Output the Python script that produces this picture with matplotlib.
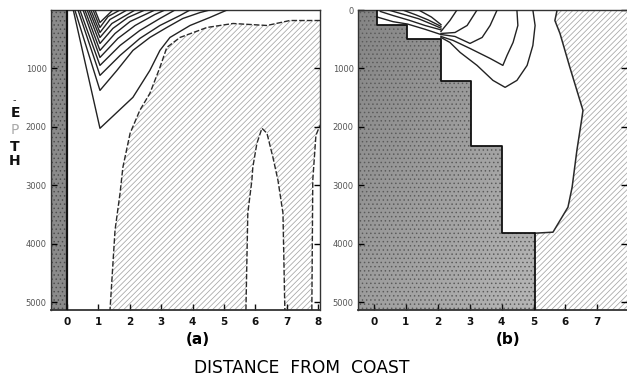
import matplotlib.pyplot as plt
import numpy as np
from matplotlib.patches import Polygon

plt.rcParams['hatch.linewidth'] = 0.55

W, H = 627, 378
DMAX = 5135

# ---- panel (a) ----
a_xlim = (-0.51, 8.06)
a_coast = 0.0

# nested V-shaped isolines near the coast
a_lines_x = [
    [0.20, 1.05, 2.10, 2.64, 2.96, 3.28, 3.92, 4.55, 5.10],
    [0.25, 1.05, 1.59, 2.10, 2.64, 3.18, 3.69, 4.24, 4.55],
    [0.35, 1.05, 1.69, 2.32, 2.96, 3.60, 3.92],
    [0.41, 1.05, 1.69, 2.32, 2.96, 3.44],
    [0.51, 1.05, 1.62, 2.17, 2.80, 3.12],
    [0.57, 1.05, 1.53, 2.01, 2.80],
    [0.64, 1.05, 1.46, 1.94, 2.48],
    [0.70, 1.05, 1.43, 2.17],
    [0.76, 1.05, 1.37, 1.91],
    [0.83, 1.05, 1.31, 1.69],
    [0.89, 1.05, 1.46],
]
a_lines_d = [
    [0, 2025, 1495, 1034, 692, 470, 265, 128, 0],
    [0, 1376, 1034, 692, 470, 299, 145, 43, 0],
    [0, 1119, 778, 487, 265, 94, 0],
    [0, 948, 607, 350, 145, 0],
    [0, 812, 487, 265, 77, 0],
    [0, 692, 402, 197, 0],
    [0, 573, 316, 128, 0],
    [0, 470, 231, 0],
    [0, 385, 162, 0],
    [0, 299, 111, 0],
    [0, 214, 0],
]

# boundary of the hatched zone
a_edge_x = [8.06, 7.10, 6.37, 5.29, 4.46, 3.60, 3.18, 2.96, 2.64, 2.32, 2.01, 1.78, 1.69, 1.53, 1.43, 1.37]
a_edge_d = [180, 180, 265, 231, 299, 470, 641, 983, 1427, 1717, 2110, 2692, 3136, 3768, 4623, 5135]

# clear tongues inside the hatched zone
a_arch1_x = [5.70, 5.76, 5.89, 5.92, 6.05, 6.21, 6.37, 6.56, 6.72, 6.88, 6.94]
a_arch1_d = [5135, 3477, 2913, 2690, 2282, 2025, 2110, 2521, 2913, 3478, 5135]
a_arch2_x = [7.80, 7.83, 7.93, 8.06]
a_arch2_d = [5135, 2913, 2145, 1974]

# ---- panel (b) ----
b_xlim = (-0.5, 7.93)

# stepped bottom
b_step_x = [0.1, 0.1, 1.05, 1.05, 2.1, 2.1, 3.05, 3.05, 4.0, 4.0, 5.05, 5.05]
b_step_d = [0, 265, 265, 500, 500, 1220, 1220, 2330, 2330, 3820, 3820, 5135]

b_edge_x = [5.74, 5.67, 5.83, 6.14, 6.55, 6.52, 6.36, 6.21, 6.08, 5.61, 5.05]
b_edge_d = [0, 180, 402, 983, 1717, 1837, 2401, 3034, 3375, 3803, 3820]

b_lines_x = [
    [4.98, 5.05, 4.98, 4.80, 4.48, 4.11, 3.73, 3.23, 2.70, 2.38, 2.10],
    [4.48, 4.51, 4.36, 4.17, 4.04, 3.64, 3.01, 2.48, 2.10],
    [3.86, 3.64, 3.39, 3.01, 2.54, 2.10],
    [3.23, 2.92, 2.54, 2.10],
    [2.60, 2.38, 2.10],
    [1.40, 1.80, 2.10],
    [0.90, 1.30, 1.70, 2.10],
    [0.45, 0.90, 1.40, 1.80, 2.10],
    [0.20, 0.60, 1.10, 1.60, 2.10],
    [0.10, 0.60, 1.05, 1.60, 2.10],
]
b_lines_d = [
    [0, 265, 607, 948, 1205, 1324, 1205, 948, 726, 555, 470],
    [0, 265, 555, 778, 948, 829, 658, 521, 453],
    [0, 265, 470, 572, 453, 419],
    [0, 265, 385, 402],
    [0, 180, 367],
    [0, 120, 250],
    [0, 80, 170, 280],
    [0, 70, 150, 240, 310],
    [25, 95, 175, 265, 340],
    [120, 200, 240, 330, 420],
]

depth_ticks = [0, 1000, 2000, 3000, 4000, 5000]

fig = plt.figure(figsize=(6.27, 3.78), dpi=100)
ax_a = fig.add_axes([51 / W, 1 - 310 / H, 269 / W, 300 / H])
ax_b = fig.add_axes([358 / W, 1 - 310 / H, 269 / W, 300 / H])

line_kw = dict(color='#222222', lw=1.0)
hatch_kw = dict(facecolor='none', edgecolor='#a4a4a4', hatch='//////', lw=0)

# (a) coast strip
strip = [(a_xlim[0], 0), (a_coast, 0), (a_coast, DMAX), (a_xlim[0], DMAX)]
ax_a.add_patch(Polygon(strip, facecolor='#8a8a8a', lw=0, zorder=1))
ax_a.add_patch(Polygon(strip, facecolor='none', edgecolor='#4d4d4d', hatch='....', lw=0, zorder=1.1))
ax_a.axvline(a_coast, color='#111', lw=1.6, zorder=4)

hz = list(zip(a_edge_x, a_edge_d)) + [(a_xlim[1], DMAX)]
ax_a.add_patch(Polygon(hz, zorder=1, **hatch_kw))
ax_a.add_patch(Polygon(list(zip(a_arch1_x, a_arch1_d)), facecolor='white', lw=0, zorder=1.5))
ax_a.add_patch(Polygon(list(zip(a_arch2_x, a_arch2_d)) + [(a_xlim[1], DMAX)],
                       facecolor='white', lw=0, zorder=1.5))

dash = (0, (4, 1.5))
ax_a.plot(a_edge_x, a_edge_d, color='#2a2a2a', lw=1.0, ls=dash, zorder=3)
ax_a.plot(a_arch1_x, a_arch1_d, color='#2a2a2a', lw=1.0, ls=dash, zorder=3)
ax_a.plot(a_arch2_x, a_arch2_d, color='#2a2a2a', lw=1.0, ls=dash, zorder=3)
for xs, ds in zip(a_lines_x, a_lines_d):
    ax_a.plot(xs, ds, zorder=3, **line_kw)

# (b) stepped bottom with grey shading
step_poly = [(b_xlim[0], 0)] + list(zip(b_step_x, b_step_d)) + [(b_xlim[0], DMAX)]
clip = Polygon(step_poly, facecolor='none', lw=0)
ax_b.add_patch(clip)
gx, gy = np.meshgrid(np.linspace(0, 1, 60), np.linspace(0, 1, 60))
shade = 0.52 + 0.24 * (0.6 * gx + 0.4 * gy)
img = ax_b.imshow(shade, cmap='gray', vmin=0, vmax=1, aspect='auto',
                  extent=(b_xlim[0], b_xlim[1], DMAX, 0), zorder=1)
img.set_clip_path(clip)
ax_b.add_patch(Polygon(step_poly, facecolor='none', edgecolor='#5a5a5a', hatch='....', lw=0, zorder=1.1))
ax_b.plot(b_step_x, b_step_d, color='#111', lw=1.3, zorder=4)

hz_b = list(zip(b_edge_x, b_edge_d)) + [(5.05, DMAX), (b_xlim[1], DMAX), (b_xlim[1], 0)]
ax_b.add_patch(Polygon(hz_b, zorder=1, **hatch_kw))
ax_b.plot(b_edge_x, b_edge_d, color='#2a2a2a', lw=1.1, zorder=3)
for xs, ds in zip(b_lines_x, b_lines_d):
    ax_b.plot(xs, ds, zorder=3, **line_kw)

# axes styling
for ax, xl, nx in ((ax_a, a_xlim, 9), (ax_b, b_xlim, 8)):
    ax.set_xlim(*xl)
    ax.set_ylim(DMAX, 0)
    ax.set_xticks(range(nx))
    ax.set_xticklabels([str(i) for i in range(nx)], fontsize=7.5, fontweight='bold')
    ax.tick_params(axis='x', direction='in', length=4, width=1, pad=5, colors='#111')
    ax.tick_params(axis='y', direction='in', length=4, width=1, right=True, pad=3,
                   labelsize=6, labelcolor='#555')
    for s in ax.spines.values():
        s.set_color('#333')
        s.set_linewidth(1.0)
    ax.spines['bottom'].set_linewidth(1.3)

ax_a.set_yticks(depth_ticks[1:])
ax_a.set_yticklabels([str(v) for v in depth_ticks[1:]])
ax_b.set_yticks(depth_ticks)
ax_b.set_yticklabels([str(v) for v in depth_ticks])
ax_b.spines['right'].set_visible(False)

# labels
fig.text(198 / W, 1 - 340 / H, '(a)', ha='center', va='center', fontsize=11, fontweight='bold')
fig.text(508 / W, 1 - 340 / H, '(b)', ha='center', va='center', fontsize=11, fontweight='bold')
fig.text(302 / W, 1 - 368 / H, 'DISTANCE  FROM  COAST', ha='center', va='center', fontsize=12.3)

fig.text(14 / W, 1 - 100 / H, '-', ha='center', va='center', fontsize=7, color='#333')
for ch, yy, col in (('E', 113, '#111'), ('P', 130, '#aaa'), ('T', 147, '#111'), ('H', 161, '#111')):
    fig.text(15 / W, 1 - yy / H, ch, ha='center', va='center', fontsize=10,
             fontweight='bold' if col == '#111' else 'normal', color=col)

fig.savefig('out.png', dpi=100)
